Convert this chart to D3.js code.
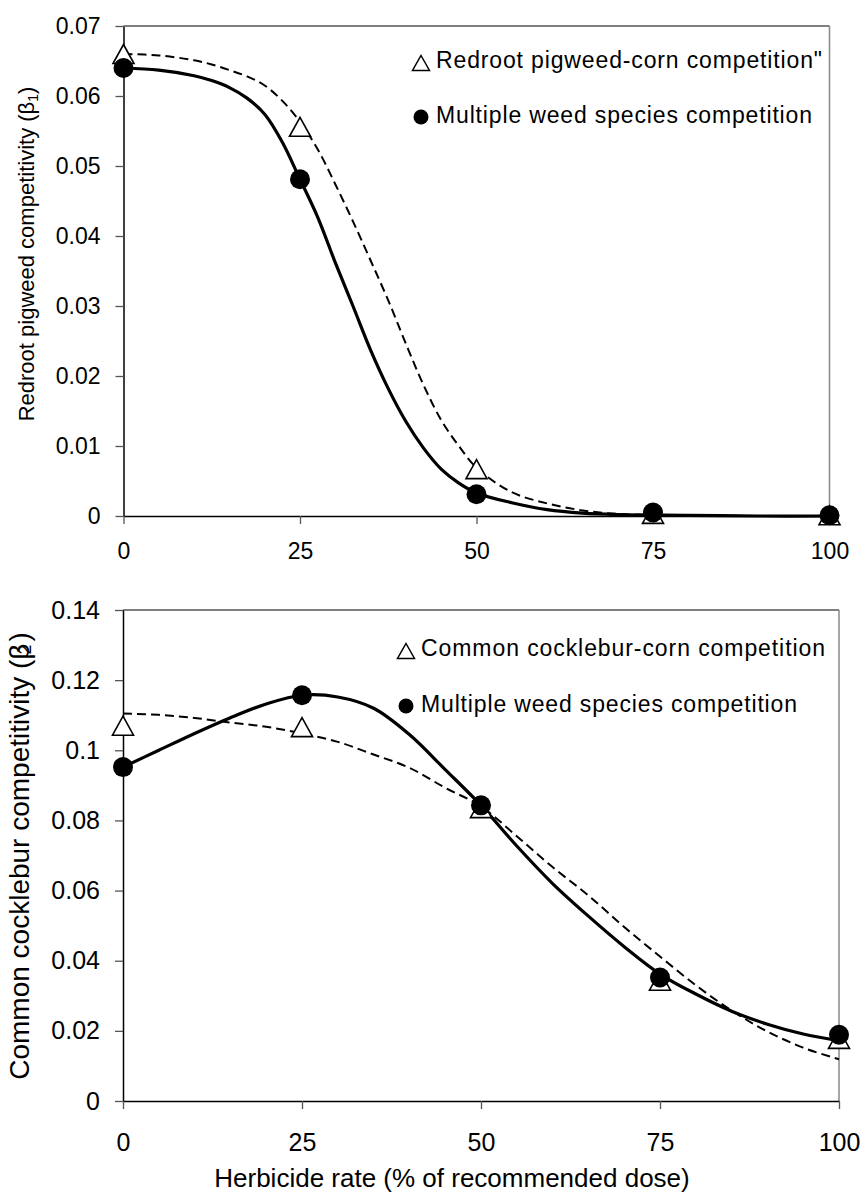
<!DOCTYPE html>
<html>
<head>
<meta charset="utf-8">
<script src="https://cdnjs.cloudflare.com/ajax/libs/d3/7.8.5/d3.min.js"></script>
<style>
  body { margin: 0; background: #fff; }
  svg { display: block; font-family: "Liberation Sans", Arial, sans-serif; }
</style>
</head>
<body>
<svg id="chart"></svg>
<script>
// observed doses (% of recommended)
const doses = [0, 25, 50, 75, 100];
const xTicks = [0, 25, 50, 75, 100];

// top panel: redroot pigweed competitivity (beta1)
const topPigweedCorn = [0.066, 0.0556, 0.0067, 0.0003, 0.0001];
const topMultiple = [0.064, 0.0481, 0.0031, 0.0005, 0.0001];
const topFitDose = [0, 5, 10, 12.5, 15, 17.5, 20, 22.5, 25, 27.5, 30, 32.5, 35, 37.5, 40, 42.5, 45, 47.5, 50, 55, 60, 65, 70, 80, 90, 100];
const topFitPigweedCorn = [0.0660, 0.0658, 0.0651, 0.0645, 0.0637, 0.0628, 0.0615, 0.0593, 0.0563, 0.0524, 0.0474, 0.0421, 0.0365, 0.0308, 0.0246, 0.0187, 0.0137, 0.0100, 0.0069, 0.0034, 0.0018, 0.0008, 0.0003, 0.0001, 0, 0];
const topFitMultiple = [0.0640, 0.0637, 0.0629, 0.0622, 0.0612, 0.0597, 0.0574, 0.0534, 0.0481, 0.0427, 0.0362, 0.0300, 0.0237, 0.0182, 0.0135, 0.0097, 0.0067, 0.0047, 0.0033, 0.0019, 0.0009, 0.0004, 0.0002, 0.0001, 0, 0];
const topYTicks = [0, 0.01, 0.02, 0.03, 0.04, 0.05, 0.06, 0.07];
const topYLabels = ["0", "0.01", "0.02", "0.03", "0.04", "0.05", "0.06", "0.07"];

// bottom panel: common cocklebur competitivity (beta2)
const botCockleburCorn = [0.107, 0.1066, 0.0835, 0.0343, 0.0177];
const botMultiple = [0.0952, 0.1157, 0.0843, 0.0352, 0.0189];
const botFitDose = [0, 5, 10, 15, 20, 25, 30, 35, 40, 45, 50, 55, 60, 65, 70, 75, 80, 85, 90, 95, 100];
const botFitCockleburCorn = [0.1105, 0.1101, 0.1092, 0.1079, 0.1067, 0.1048, 0.1024, 0.0988, 0.0950, 0.0893, 0.0840, 0.0755, 0.0667, 0.0586, 0.0496, 0.0412, 0.0330, 0.0258, 0.0198, 0.0152, 0.0119];
const botFitMultiple = [0.0952, 0.1000, 0.1048, 0.1093, 0.1132, 0.1157, 0.1152, 0.1120, 0.1045, 0.0945, 0.0843, 0.0727, 0.0620, 0.0527, 0.0440, 0.0362, 0.0305, 0.0256, 0.0219, 0.0191, 0.0172];
const botYTicks = [0, 0.02, 0.04, 0.06, 0.08, 0.1, 0.12, 0.14];
const botYLabels = ["0", "0.02", "0.04", "0.06", "0.08", "0.1", "0.12", "0.14"];

const width = 864, height = 1194;
const svg = d3.select('#chart').attr('width', width).attr('height', height);

function tri(w, h) {
  return `M0,${-h / 2}L${w / 2},${h / 2}L${-w / 2},${h / 2}Z`;
}

function panel(p) {
  const x = d3.scaleLinear().domain([0, 100]).range([p.left, p.right]);
  const y = d3.scaleLinear().domain([0, p.yMax]).range([p.bottom, p.top]);
  const g = svg.append('g');

  // frame: top black, right grey
  g.append('line').attr('x1', p.left).attr('x2', p.right).attr('y1', p.top).attr('y2', p.top)
    .attr('stroke', '#000').attr('stroke-width', 1);
  g.append('line').attr('x1', p.right).attr('x2', p.right).attr('y1', p.top).attr('y2', p.bottom)
    .attr('stroke', '#888').attr('stroke-width', 1.5);

  const yAxis = g.append('g').attr('transform', `translate(${p.left},0)`)
    .call(d3.axisLeft(y).tickValues(p.yTicks).tickSize(8).tickSizeOuter(0).tickPadding(15)
      .tickFormat((d, i) => p.yLabels[i]));
  const xAxis = g.append('g').attr('transform', `translate(0,${p.bottom})`)
    .call(d3.axisBottom(x).tickValues(xTicks).tickSize(8).tickSizeOuter(0).tickPadding(p.xPad)
      .tickFormat(d3.format('d')));
  [yAxis, xAxis].forEach(a => {
    a.select('.domain').attr('stroke', '#000').attr('stroke-width', 1.5);
    a.selectAll('.tick line').attr('stroke', '#555').attr('stroke-width', 1.3);
    a.selectAll('.tick text').attr('fill', '#000').style('font-size', p.tickFont + 'px')
      .style('font-family', '"Liberation Sans", Arial, sans-serif');
  });

  const line = d3.line().x(d => x(d[0])).y(d => y(d[1])).curve(d3.curveCatmullRom.alpha(0.5));
  g.append('path').datum(p.fitDose.map((d, i) => [d, p.fitA[i]]))
    .attr('d', line).attr('fill', 'none').attr('stroke', '#000')
    .attr('stroke-width', 2).attr('stroke-dasharray', '9,5');
  g.append('path').datum(p.fitDose.map((d, i) => [d, p.fitB[i]]))
    .attr('d', line).attr('fill', 'none').attr('stroke', '#000').attr('stroke-width', 3.2);

  g.selectAll('.triMark').data(doses.map((d, i) => [d, p.markA[i]])).enter().append('path')
    .attr('d', tri(21, 19)).attr('transform', d => `translate(${x(d[0])},${y(d[1])})`)
    .attr('fill', '#fff').attr('stroke', '#000').attr('stroke-width', 1.6);
  g.selectAll('.dotMark').data(doses.map((d, i) => [d, p.markB[i]])).enter().append('circle')
    .attr('cx', d => x(d[0])).attr('cy', d => y(d[1])).attr('r', 10).attr('fill', '#000');

  // legend
  const lg = g.append('g');
  lg.append('path').attr('d', tri(17, 15)).attr('transform', `translate(${p.lgX},${p.lgY1 - 5})`)
    .attr('fill', '#fff').attr('stroke', '#000').attr('stroke-width', 1.5);
  lg.append('circle').attr('cx', p.lgX).attr('cy', p.lgY2 - 6).attr('r', 7.5).attr('fill', '#000');
  lg.append('text').attr('x', p.lgTx).attr('y', p.lgY1).style('font-size', '23px')
    .attr('textLength', p.lgLen1).attr('lengthAdjust', 'spacing').text(p.lgText1);
  lg.append('text').attr('x', p.lgTx).attr('y', p.lgY2).style('font-size', '23px')
    .attr('textLength', p.lgLen2).attr('lengthAdjust', 'spacing').text(p.lgText2);
  return g;
}

panel({
  left: 123.5, right: 829.5, top: 26, bottom: 516, yMax: 0.07,
  yTicks: topYTicks, yLabels: topYLabels, tickFont: 23, xPad: 19,
  fitDose: topFitDose, fitA: topFitPigweedCorn, fitB: topFitMultiple,
  markA: topPigweedCorn, markB: topMultiple,
  lgX: 421, lgTx: 436, lgY1: 68, lgY2: 123, lgLen1: 386, lgLen2: 376,
  lgText1: 'Redroot pigweed-corn competition"', lgText2: 'Multiple weed species competition'
});

panel({
  left: 123, right: 839, top: 610, bottom: 1101, yMax: 0.14,
  yTicks: botYTicks, yLabels: botYLabels, tickFont: 25, xPad: 24,
  fitDose: botFitDose, fitA: botFitCockleburCorn, fitB: botFitMultiple,
  markA: botCockleburCorn, markB: botMultiple,
  lgX: 406, lgTx: 421, lgY1: 656, lgY2: 712, lgLen1: 404, lgLen2: 376,
  lgText1: 'Common cocklebur-corn competition', lgText2: 'Multiple weed species competition'
});

// axis titles
const t1 = svg.append('text').attr('transform', 'translate(34,254) rotate(-90)')
  .attr('text-anchor', 'middle').style('font-size', '22px');
t1.append('tspan').text('Redroot pigweed competitivity (β');
t1.append('tspan').text('1').style('font-size', '14px').attr('dy', 4);
t1.append('tspan').text(')').attr('dy', -4);

const t2 = svg.append('text').attr('transform', 'translate(28.5,856) rotate(-90)')
  .attr('text-anchor', 'middle').style('font-size', '28px');
t2.append('tspan').text('Common cocklebur competitivity (β');
t2.append('tspan').text('2').style('font-size', '18px').attr('dx', -11).attr('dy', 2);
t2.append('tspan').text(')').attr('dx', 3).attr('dy', -2);

svg.append('text').attr('x', 452).attr('y', 1187).attr('text-anchor', 'middle')
  .style('font-size', '26px').text('Herbicide rate (% of recommended dose)');
</script>
</body>
</html>
